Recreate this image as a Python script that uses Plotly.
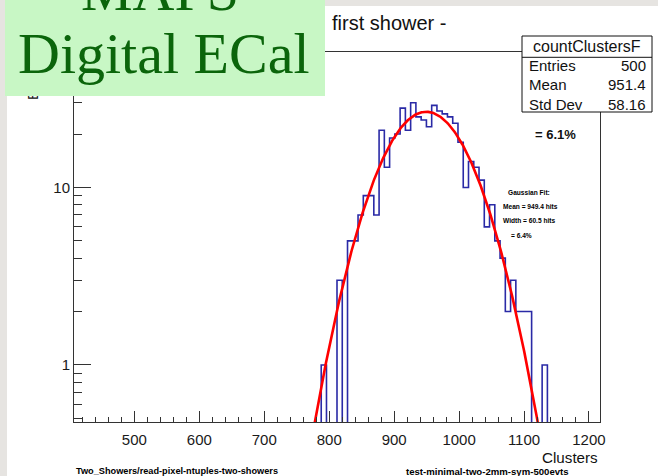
import numpy as np
import plotly.graph_objects as go

# ---- histogram definition: countClustersF, 100 bins ----
BIN_LOW = 407.0
BIN_WIDTH = 8.1
N_BINS = 100
FIRST_FILLED_BIN = 47
bin_counts = [1, 0, 0, 3, 0, 5, 5, 7, 9, 9, 7, 21, 13, 19, 20, 28, 21, 30, 25, 24,
              22, 29, 27, 26, 25, 23, 18, 10, 14, 13, 11, 6, 8, 5, 4, 2, 3, 2, 2, 2,
              0, 0, 1]

# statistics box
stats_title = "countClustersF"
stats_labels = ["Entries", "Mean", "Std Dev"]
stats_values = ["500", "951.4", "58.16"]
n_entries = 500

# gaussian fit parameters
fit_mean = 949.4
fit_width = 60.5
fit_lines = ["Gaussian Fit:", "Mean = 949.4 hits", "Width = 60.5 hits", "= 6.4%"]
resolution_text = "= 6.1%"

x_tick_vals = [500, 600, 700, 800, 900, 1000, 1100, 1200]
y_tick_vals = [1, 10]
y_minor_vals = [0.5, 0.6, 0.7, 0.8, 0.9, 2, 3, 4, 5, 6, 7, 8, 9, 20, 30, 40, 50]

SANS = "Liberation Sans, Arial, sans-serif"
SERIF = "Liberation Serif, Times New Roman, serif"

W, H = 658, 476
ML, MR, MT, MB = 74, 58, 52, 54
PW, PH = W - ML - MR, H - MT - MB


def px2x(p):
    return (p - ML) / PW


def px2y(p):
    return (H - MB - p) / PH


# step outline of the histogram (empty bins drop below the log floor)
edges = BIN_LOW + BIN_WIDTH * np.arange(N_BINS + 1)
full = np.zeros(N_BINS)
full[FIRST_FILLED_BIN:FIRST_FILLED_BIN + len(bin_counts)] = bin_counts
y_step = np.where(full > 0, full, 1e-2)
y_line = np.append(y_step, y_step[-1])

# gaussian fit curve
amp = n_entries * BIN_WIDTH / (fit_width * np.sqrt(2 * np.pi))
xf = np.linspace(BIN_LOW, BIN_LOW + N_BINS * BIN_WIDTH, 800)
yf = amp * np.exp(-0.5 * ((xf - fit_mean) / fit_width) ** 2)

fig = go.Figure()
fig.add_trace(go.Scatter(x=edges, y=y_line, mode="lines",
                         line=dict(shape="hv", color="#2a2aa6", width=1.6),
                         hoverinfo="skip", showlegend=False))
fig.add_trace(go.Scatter(x=xf, y=yf, mode="lines",
                         line=dict(color="#ff0000", width=2.6),
                         hoverinfo="skip", showlegend=False))

axis_col = "#333333"
fig.update_xaxes(range=[BIN_LOW, BIN_LOW + N_BINS * BIN_WIDTH], showgrid=False, zeroline=False,
                 showline=True, linecolor=axis_col, linewidth=1, mirror=True,
                 ticks="inside", ticklen=11, tickwidth=1, tickcolor=axis_col,
                 tickmode="array", tickvals=x_tick_vals, ticktext=[str(v) for v in x_tick_vals],
                 tickfont=dict(family=SANS, size=15, color="#1a1a1a"), ticklabelstandoff=4,
                 minor=dict(ticks="inside", ticklen=5, tickwidth=1, tickcolor=axis_col,
                            dtick=20, tick0=0, showgrid=False))
fig.update_yaxes(type="log", range=[np.log10(0.477), np.log10(58.0)], showgrid=False, zeroline=False,
                 showline=True, linecolor=axis_col, linewidth=1, mirror=True,
                 ticks="inside", ticklen=17, tickwidth=1, tickcolor=axis_col,
                 tickmode="array", tickvals=y_tick_vals, ticktext=[str(v) for v in y_tick_vals],
                 tickfont=dict(family=SANS, size=15, color="#1a1a1a"),
                 minor=dict(ticks="inside", ticklen=8, tickwidth=1, tickcolor=axis_col,
                            tickmode="array", tickvals=y_minor_vals, showgrid=False))

shapes = [
    # white canvas over the grey desk background
    dict(type="rect", xref="paper", yref="paper", layer="below",
         x0=px2x(7), x1=px2x(W + 5), y0=px2y(H + 5), y1=px2y(6),
         fillcolor="white", line=dict(width=0)),
    # statistics box
    dict(type="rect", xref="paper", yref="paper", layer="above",
         x0=px2x(522), x1=px2x(652), y0=px2y(112), y1=px2y(36),
         fillcolor="white", line=dict(color="#111111", width=1)),
    dict(type="line", xref="paper", yref="paper", layer="above",
         x0=px2x(522), x1=px2x(652), y0=px2y(57.3), y1=px2y(57.3),
         line=dict(color="#111111", width=1)),
]

ann = []


def text(t, x, y, size, xanchor="center", color="#111111", family=SANS, angle=0, **kw):
    ann.append(dict(text=t, x=px2x(x), y=px2y(y), xref="paper", yref="paper",
                    xanchor=xanchor, yanchor="middle", showarrow=False, textangle=angle,
                    font=dict(family=family, size=size, color=color), **kw))


# y axis title (mostly hidden under the label box)
text("Entries", 32.5, 76.5, 15, angle=-90)
# green label box
ann.append(dict(text=" ", x=px2x(5), y=px2y(0), xref="paper", yref="paper",
                xanchor="left", yanchor="top", showarrow=False, width=320, height=96,
                bgcolor="#c8f7c5", borderpad=0, borderwidth=0,
                font=dict(size=10)))
text("MAPS", 160, -9, 58, color="#0b650b", family=SERIF)
text("Digital ECal", 163.5, 53.5, 58, color="#0b650b", family=SERIF)

# title
text("first shower -", 330, 22.7, 20, xanchor="left")

# stats box contents
text(stats_title, 587, 46.8, 16)
for i, (lab, val) in enumerate(zip(stats_labels, stats_values)):
    yy = 65.5 + 19.4 * i
    text(lab, 527, yy, 15, xanchor="left")
    text(val, 648, yy, 15, xanchor="right")

# resolution and fit summary
text("<b>" + resolution_text + "</b>", 555, 134.5, 13)
fit_x = [506.0, 500.5, 501.0, 509.3]
fit_y = [192.7, 206.7, 220.5, 235.7]
for t, xx, yy in zip(fit_lines, fit_x, fit_y):
    text("<b>" + t + "</b>", xx, yy, 6.6, xanchor="left", color="#000000")

# axis title and footer
text("Clusters", 600, 457.5, 15.2, xanchor="right")
text("<b>Two_Showers/read-pixel-ntuples-two-showers</b>", 74, 471, 9.2, xanchor="left", color="#000000")
text("<b>test-minimal-two-2mm-sym-500evts</b>", 404, 471, 9.6, xanchor="left", color="#000000")

fig.update_layout(width=W, height=H, margin=dict(l=ML, r=MR, t=MT, b=MB, pad=0),
                  paper_bgcolor="#e6e4e1", plot_bgcolor="white",
                  shapes=shapes, annotations=ann, showlegend=False)

fig.write_html("out.html")
